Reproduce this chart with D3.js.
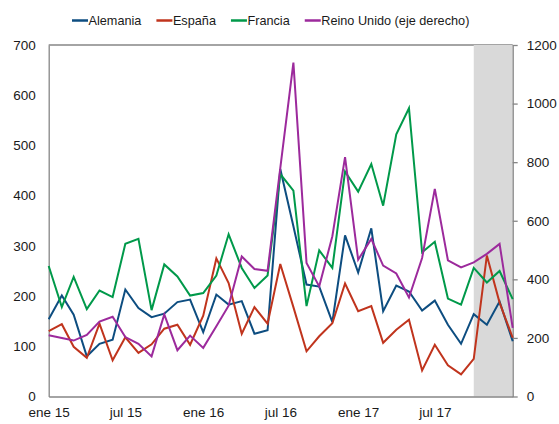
<!DOCTYPE html>
<html>
<head>
<meta charset="utf-8">
<script src="https://cdn.jsdelivr.net/npm/d3@7"></script>
<style>
  html, body { margin: 0; padding: 0; background: #fff; }
  svg text { font-family: "Liberation Sans", "DejaVu Sans", sans-serif; fill: #1a1a1a; }
</style>
</head>
<body>
<svg id="chart" width="559" height="424"></svg>
<script>
// Monthly series, ene 2015 – ene 2018
const startMonth = new Date(2015, 0, 1);
const alemania = [154,201,163,80,105,113,213,176,158,165,188,193,128,203,183,190,125,132,453,339,223,219,148,321,247,335,170,221,209,171,191,143,105,164,143,189,110];
const espana   = [130,144,99,77,145,72,118,87,104,135,143,103,161,275,226,125,178,145,264,178,90,120,146,225,170,180,107,133,153,52,103,62,44,75,281,187,117];
const francia  = [260,178,238,174,211,198,304,314,172,263,239,201,206,241,323,256,216,241,443,410,180,291,256,448,408,463,380,522,574,287,308,195,183,256,227,250,194];
const reinoUnido = [209,200,191,210,256,272,203,180,137,280,158,208,166,240,310,478,435,429,780,1140,456,376,547,817,467,538,447,420,338,473,709,465,441,458,487,521,234];

const xTickLabels = ["ene 15", "jul 15", "ene 16", "jul 16", "ene 17", "jul 17"];
const xTickDates = [new Date(2015,0,1), new Date(2015,6,1), new Date(2016,0,1), new Date(2016,6,1), new Date(2017,0,1), new Date(2017,6,1)];
const leftTicks = [0, 100, 200, 300, 400, 500, 600, 700];
const rightTicks = [0, 200, 400, 600, 800, 1000, 1200];
const shadedRange = [new Date(2017, 9, 1), new Date(2018, 0, 1)];

const seriesNames = ["Alemania", "España", "Francia", "Reino Unido (eje derecho)"];
const seriesColors = ["#0d4d80", "#c0341d", "#00994a", "#9c2a9c"];

const dates = alemania.map((_, i) => d3.timeMonth.offset(startMonth, i));

const svg = d3.select("#chart");
const plotLeft = 48.7, plotRight = 512.7, plotTop = 45, plotBottom = 396.5;

const x = d3.scaleTime().domain([dates[0], dates[dates.length - 1]]).range([plotLeft, plotRight]);
const yL = d3.scaleLinear().domain([0, 700]).range([plotBottom, plotTop]);
const yR = d3.scaleLinear().domain([0, 1200]).range([plotBottom, plotTop]);

const axisColor = "#868686";

// top frame line
svg.append("line")
  .attr("x1", plotLeft).attr("x2", plotRight).attr("y1", plotTop).attr("y2", plotTop)
  .attr("stroke", axisColor).attr("stroke-width", 1.3);

// shaded period
svg.append("rect")
  .attr("x", x(shadedRange[0])).attr("y", plotTop)
  .attr("width", x(shadedRange[1]) - x(shadedRange[0]))
  .attr("height", plotBottom - plotTop)
  .attr("fill", "#d9d9d9");

// left axis (labels only, plain spine)
const gL = svg.append("g").attr("transform", `translate(${plotLeft},0)`)
  .call(d3.axisLeft(yL).tickValues(leftTicks).tickFormat(d3.format("d")).tickSize(0).tickPadding(13));
gL.select(".domain").attr("stroke", axisColor).attr("stroke-width", 1.3);
gL.selectAll("text").attr("font-size", 13.5).style("font-family", null);

// right axis with outer ticks
const gR = svg.append("g").attr("transform", `translate(${plotRight},0)`)
  .call(d3.axisRight(yR).tickValues(rightTicks).tickFormat(d3.format("d")).tickSize(5).tickSizeOuter(0).tickPadding(9));
gR.select(".domain").attr("stroke", axisColor).attr("stroke-width", 1.3);
gR.selectAll(".tick line").attr("stroke", axisColor).attr("stroke-width", 1.3);
gR.selectAll("text").attr("font-size", 13.5).style("font-family", null);

// bottom axis
const gB = svg.append("g").attr("transform", `translate(0,${plotBottom})`)
  .call(d3.axisBottom(x).tickValues(xTickDates).tickFormat((d, i) => xTickLabels[i]).tickSize(0).tickPadding(11));
gB.select(".domain").attr("stroke", axisColor).attr("stroke-width", 1.3);
gB.selectAll("text").attr("font-size", 13.5).style("font-family", null);

// series lines
const allSeries = [
  { values: alemania, scale: yL },
  { values: espana, scale: yL },
  { values: francia, scale: yL },
  { values: reinoUnido, scale: yR }
];
allSeries.forEach((s, k) => {
  const line = d3.line().x((d, i) => x(dates[i])).y(d => s.scale(d));
  svg.append("path")
    .datum(s.values)
    .attr("d", line)
    .attr("fill", "none")
    .attr("stroke", seriesColors[k])
    .attr("stroke-width", 2)
    .attr("stroke-linejoin", "miter");
});

// legend
const legend = svg.append("g");
let lx = 72;
const ly = 20.5;
seriesNames.forEach((name, k) => {
  legend.append("line")
    .attr("x1", lx).attr("x2", lx + 16).attr("y1", ly).attr("y2", ly)
    .attr("stroke", seriesColors[k]).attr("stroke-width", 2.5);
  const t = legend.append("text")
    .attr("x", lx + 16.5).attr("y", ly).attr("dy", "0.35em")
    .attr("font-size", 12.7).text(name);
  lx += 16.5 + t.node().getComputedTextLength() + 15;
});
</script>
</body>
</html>
